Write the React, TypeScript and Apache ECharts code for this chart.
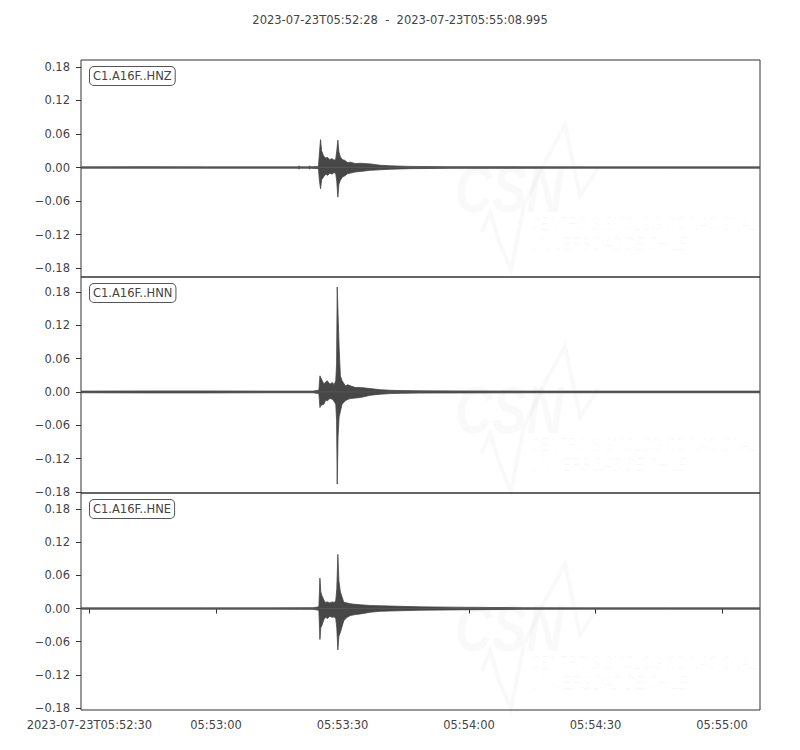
import React, { useEffect, useRef } from "react";
import * as echarts from "echarts";

// ---------- data ----------
const TITLE = "2023-07-23T05:52:28  -  2023-07-23T05:55:08.995";
const DURATION = 160.995; // seconds from 05:52:28

const xTickSeconds = [2, 32, 62, 92, 122, 152];
const xTickLabels = [
  "2023-07-23T05:52:30",
  "05:53:00",
  "05:53:30",
  "05:54:00",
  "05:54:30",
  "05:55:00",
];
const yTicks = [-0.18, -0.12, -0.06, 0, 0.06, 0.12, 0.18];
const channels = ["C1.A16F..HNZ", "C1.A16F..HNN", "C1.A16F..HNE"];

// envelopes (upper / lower) of each trace, seconds after start
const hnzTime = [0, 15, 30, 45, 51.5, 51.7, 51.9, 54.0, 54.2, 54.4, 56.3, 56.55, 56.8, 57.05, 57.5, 58.0, 58.5, 59.0, 59.5, 60.0, 60.4, 60.65, 60.9, 61.15, 61.5, 62.0, 62.5, 63.2, 63.9, 65.0, 66.3, 68.6, 71.0, 73.4, 78.0, 87.5, 100, 120, 140, 161];
const hnzUpper = [0.0012, 0.0015, 0.0012, 0.0012, 0.0012, 0.003, 0.0012, 0.0012, 0.003, 0.0012, 0.002, 0.028, 0.05, 0.03, 0.021, 0.017, 0.018, 0.014, 0.016, 0.013, 0.015, 0.03, 0.049, 0.028, 0.019, 0.014, 0.013, 0.009, 0.0096, 0.007, 0.0076, 0.0065, 0.004, 0.003, 0.002, 0.0015, 0.0015, 0.0012, 0.0012, 0.0012];
const hnzLower = [-0.0012, -0.0012, -0.0012, -0.0012, -0.0012, -0.003, -0.0012, -0.0012, -0.003, -0.0012, -0.002, -0.025, -0.038, -0.022, -0.017, -0.012, -0.014, -0.01, -0.012, -0.009, -0.011, -0.025, -0.053, -0.03, -0.023, -0.017, -0.015, -0.011, -0.01, -0.008, -0.007, -0.005, -0.004, -0.003, -0.002, -0.0015, -0.0015, -0.0012, -0.0012, -0.0012];

const hnnTime = [0, 15, 30, 45, 52, 55, 56.4, 56.65, 56.9, 57.6, 58.0, 58.4, 59.0, 59.6, 60.0, 60.4, 60.6, 60.75, 60.95, 61.2, 61.5, 61.9, 62.7, 63.3, 63.9, 65.0, 66.3, 68.6, 71.0, 73.4, 75.7, 80.4, 90, 110, 130, 161];
const hnnUpper = [0.0015, 0.0018, 0.0018, 0.0015, 0.0015, 0.0015, 0.003, 0.029, 0.025, 0.014, 0.018, 0.02, 0.014, 0.017, 0.013, 0.02, 0.05, 0.189, 0.14, 0.08, 0.029, 0.02, 0.011, 0.013, 0.011, 0.008, 0.008, 0.006, 0.004, 0.003, 0.0025, 0.002, 0.0018, 0.0015, 0.0015, 0.0015];
const hnnLower = [-0.0015, -0.0018, -0.0018, -0.0015, -0.0015, -0.0015, -0.003, -0.028, -0.024, -0.022, -0.015, -0.016, -0.012, -0.013, -0.017, -0.022, -0.05, -0.166, -0.08, -0.045, -0.035, -0.022, -0.016, -0.013, -0.012, -0.011, -0.01, -0.006, -0.004, -0.003, -0.0025, -0.002, -0.0018, -0.0015, -0.0015, -0.0015];

const hneTime = [0, 15, 30, 45, 52, 55, 56.4, 56.65, 56.85, 57.1, 57.6, 58.0, 58.5, 59.0, 59.5, 60.0, 60.4, 60.65, 60.9, 61.15, 61.5, 62.3, 63.1, 63.9, 65.0, 66.3, 68.6, 71.0, 75.7, 80.4, 87.5, 94.6, 105, 120, 140, 161];
const hneUpper = [0.0012, 0.0012, 0.0012, 0.0012, 0.0015, 0.0015, 0.003, 0.055, 0.03, 0.024, 0.015, 0.011, 0.012, 0.01, 0.012, 0.011, 0.014, 0.035, 0.098, 0.05, 0.03, 0.0115, 0.01, 0.0085, 0.0075, 0.0067, 0.0055, 0.005, 0.004, 0.003, 0.0025, 0.002, 0.0015, 0.0012, 0.0012, 0.0012];
const hneLower = [-0.0012, -0.0012, -0.0012, -0.0012, -0.0015, -0.0015, -0.003, -0.056, -0.035, -0.031, -0.02, -0.016, -0.018, -0.014, -0.016, -0.015, -0.018, -0.035, -0.075, -0.05, -0.043, -0.022, -0.016, -0.0127, -0.011, -0.0097, -0.0067, -0.005, -0.004, -0.003, -0.0025, -0.002, -0.0015, -0.0012, -0.0012, -0.0012];

// ---------- layout ----------
const FONT = "DejaVu Sans";
const FS = 11.5;
const INK = "#444444";
const TRACE = "#474747";
const panels = [
  { top: 60, height: 217, min: -0.196, max: 0.1925, wm: 0 },
  { top: 277, height: 216, min: -0.182, max: 0.207, wm: 221 },
  { top: 493, height: 217, min: -0.1836, max: 0.209, wm: 439 },
];
const traces = [
  { t: hnzTime, up: hnzUpper, lo: hnzLower },
  { t: hnnTime, up: hnnUpper, lo: hnnLower },
  { t: hneTime, up: hneUpper, lo: hneLower },
];

function fmtY(v: number) {
  const s = Math.abs(v).toFixed(2);
  return v < -1e-9 ? "\u2212" + s : s;
}

function buildOption() {
  const grid: any[] = [];
  const xAxis: any[] = [];
  const yAxis: any[] = [];
  const series: any[] = [];
  const graphic: any[] = [];

  panels.forEach((p, i) => {
    grid.push({
      left: 81,
      top: p.top,
      width: 679,
      height: p.height,
      show: true,
      borderColor: "#333",
      borderWidth: 1,
      backgroundColor: "transparent",
    });
    const last = i === panels.length - 1;
    xAxis.push({
      type: "value",
      gridIndex: i,
      min: 0,
      max: DURATION,
      splitLine: { show: false },
      axisLine: { show: false },
      axisTick: last
        ? { show: true, length: 5, lineStyle: { color: "#333" }, customValues: xTickSeconds }
        : { show: false },
      axisLabel: last
        ? {
            show: true,
            customValues: xTickSeconds,
            margin: 9,
            color: INK,
            fontFamily: FONT,
            fontSize: FS,
            formatter: (v: number) => {
              const k = xTickSeconds.findIndex((s) => Math.abs(s - v) < 1e-6);
              return k >= 0 ? xTickLabels[k] : "";
            },
          }
        : { show: false },
    });
    yAxis.push({
      type: "value",
      gridIndex: i,
      min: p.min,
      max: p.max,
      splitLine: { show: false },
      axisLine: { show: false },
      axisTick: { show: true, length: 5, lineStyle: { color: "#333" }, customValues: yTicks },
      axisLabel: {
        show: true,
        customValues: yTicks,
        margin: 11,
        color: INK,
        fontFamily: FONT,
        fontSize: FS,
        formatter: (v: number) => fmtY(v),
      },
    });

    const tr = traces[i];
    const upData = tr.t.map((t, k) => [t, tr.up[k]]);
    const loData = tr.t.map((t, k) => [t, tr.lo[k]]);
    [upData, loData].forEach((d) => {
      series.push({
        type: "line",
        xAxisIndex: i,
        yAxisIndex: i,
        data: d,
        showSymbol: false,
        symbol: "none",
        z: 3,
        lineStyle: { color: TRACE, width: 0.8 },
        areaStyle: { color: TRACE, opacity: 1, origin: 0 },
        silent: true,
      });
    });
    series.push({
      type: "line",
      xAxisIndex: i,
      yAxisIndex: i,
      data: [
        [0, 0],
        [DURATION, 0],
      ],
      showSymbol: false,
      symbol: "none",
      z: 3,
      lineStyle: { color: "#555", width: 1 },
      silent: true,
    });

    // faint watermark
    const o = p.wm;
    const wmColor = "rgba(0,0,0,0.022)";
    graphic.push({
      type: "polyline",
      z: 1,
      shape: {
        points: [
          [482, 232 + o],
          [490, 212 + o],
          [500, 244 + o],
          [511, 270 + o],
          [524, 205 + o],
          [545, 162 + o],
          [565, 125 + o],
          [580, 196 + o],
          [598, 168 + o],
        ],
      },
      style: { stroke: wmColor, lineWidth: 4, fill: "none" },
      silent: true,
    });
    graphic.push({
      type: "text",
      z: 1,
      x: 455,
      y: 156 + o,
      scaleX: 0.78,
      style: {
        text: "CSN",
        fill: wmColor,
        font: "italic bold 66px 'Liberation Sans'",
      },
      silent: true,
    });
    graphic.push({
      type: "text",
      z: 1,
      x: 531,
      y: 214 + o,
      scaleX: 0.74,
      style: {
        text: "CENTRO SISMOLÓGICO NACIONAL\nUNIVERSIDAD DE CHILE",
        fill: "rgba(0,0,0,0.03)",
        font: "italic 18px 'Liberation Sans'",
        lineHeight: 20,
      },
      silent: true,
    });

    // channel label box
    graphic.push({
      type: "text",
      z: 100,
      x: 90,
      y: p.top + 7,
      style: {
        text: channels[i],
        fill: INK,
        font: `${FS}px '${FONT}'`,
        backgroundColor: "#ffffff",
        borderColor: "#555",
        borderWidth: 1,
        borderRadius: 4,
        padding: [3, 3, 3, 3],
      },
      silent: true,
    });
  });

  graphic.push({
    type: "text",
    z: 100,
    x: 400,
    y: 20,
    style: {
      text: TITLE,
      fill: INK,
      font: `${FS}px '${FONT}'`,
      align: "center",
      verticalAlign: "middle",
    },
    silent: true,
  });

  return {
    animation: false,
    backgroundColor: "#ffffff",
    grid,
    xAxis,
    yAxis,
    series,
    graphic,
  };
}

export default function App() {
  const ref = useRef<HTMLDivElement>(null);
  useEffect(() => {
    if (!ref.current) return;
    const chart = echarts.init(ref.current, undefined, { renderer: "svg" });
    chart.setOption(buildOption() as any);
    return () => chart.dispose();
  }, []);
  return <div ref={ref} style={{ width: 800, height: 750, margin: -8 }} />;
}
